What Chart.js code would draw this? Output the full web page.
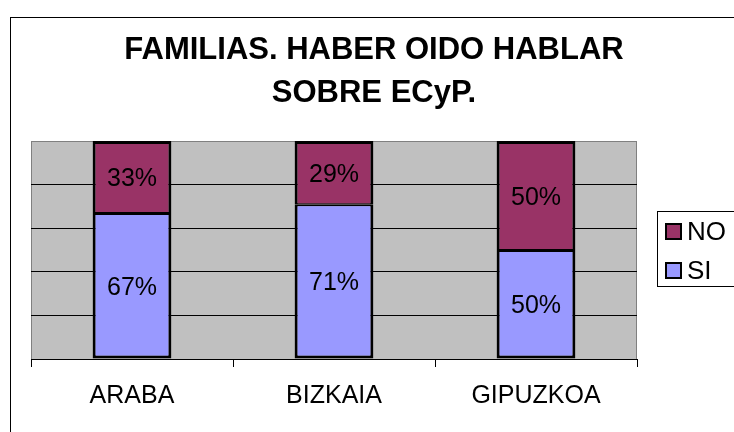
<!DOCTYPE html>
<html lang="es">
<head>
  <meta charset="UTF-8" />
  <title>FAMILIAS. HABER OIDO HABLAR SOBRE ECyP.</title>
  <style>
    body {
      margin: 0;
      padding: 0;
      background: #fff;
    }
    #wrap {
      width: 734px;
      height: 432px;
    }
  </style>
</head>
<body>
  <div id="wrap"><canvas id="grafico" width="734" height="432"></canvas></div>

  <script src="https://cdn.jsdelivr.net/npm/chart.js"></script>
  <script>
    const categorias = ["ARABA", "BIZKAIA", "GIPUZKOA"];
    const valoresSi = [67, 71, 50];
    const valoresNo = [33, 29, 50];
    const tituloLineas = ["FAMILIAS. HABER OIDO HABLAR", "SOBRE ECyP."];

    const fuente = "'Liberation Sans', Arial, sans-serif";

    // marco, fondo gris del area y titulo
    const fondo = {
      id: "fondo",
      beforeDraw(chart) {
        const ctx = chart.ctx;
        const a = chart.chartArea;
        ctx.save();
        ctx.fillStyle = "#fff";
        ctx.fillRect(0, 0, chart.width, chart.height);
        ctx.strokeStyle = "#000";
        ctx.lineWidth = 1;
        ctx.strokeRect(10.5, 17.5, 900, 900);
        ctx.fillStyle = "#C0C0C0";
        ctx.fillRect(a.left, a.top, a.right - a.left, a.bottom - a.top);
        ctx.strokeStyle = "#808080";
        ctx.beginPath();
        ctx.moveTo(a.left + 0.5, a.bottom);
        ctx.lineTo(a.left + 0.5, a.top + 0.5);
        ctx.lineTo(a.right - 0.5, a.top + 0.5);
        ctx.lineTo(a.right - 0.5, a.bottom);
        ctx.stroke();

        ctx.fillStyle = "#000";
        ctx.font = "bold 31px " + fuente;
        ctx.textAlign = "center";
        ctx.textBaseline = "alphabetic";
        ctx.fillText(tituloLineas[0], 374, 59);
        ctx.fillText(tituloLineas[1], 374, 102);
        ctx.restore();
      }
    };

    // porcentajes dentro de las barras + leyenda
    const etiquetas = {
      id: "etiquetas",
      afterDatasetsDraw(chart) {
        const ctx = chart.ctx;
        ctx.save();
        ctx.fillStyle = "#000";
        ctx.font = "25px " + fuente;
        ctx.textAlign = "center";
        ctx.textBaseline = "alphabetic";
        chart.data.datasets.forEach((ds, i) => {
          chart.getDatasetMeta(i).data.forEach((bar, j) => {
            const centro = (bar.y + bar.base) / 2;
            ctx.fillText(ds.data[j] + "%", bar.x, centro + 9);
          });
        });

        // leyenda
        ctx.strokeStyle = "#000";
        ctx.lineWidth = 1;
        ctx.strokeRect(657.5, 211.5, 200, 75);
        ctx.textAlign = "left";
        ctx.font = "26px " + fuente;
        const items = chart.data.datasets.slice().reverse();
        items.forEach((ds, k) => {
          const y = 223 + k * 39;
          ctx.fillStyle = ds.backgroundColor;
          ctx.fillRect(665, y, 17, 17);
          ctx.lineWidth = 2;
          ctx.strokeRect(666, y + 1, 15, 15);
          ctx.fillStyle = "#000";
          ctx.fillText(ds.label, 687, y + 17);
        });
        ctx.restore();
      }
    };

    new Chart(document.getElementById("grafico"), {
      type: "bar",
      data: {
        labels: categorias,
        datasets: [
          {
            label: "SI",
            data: valoresSi,
            backgroundColor: "#9999FF",
            borderColor: "#000",
            borderWidth: { left: 3, right: 3, bottom: 3, top: 2 },
            borderSkipped: false,
            barPercentage: 0.39,
            categoryPercentage: 1
          },
          {
            label: "NO",
            data: valoresNo,
            backgroundColor: "#993366",
            borderColor: "#000",
            borderWidth: { left: 3, right: 3, bottom: 1, top: 3 },
            borderSkipped: false,
            barPercentage: 0.39,
            categoryPercentage: 1
          }
        ]
      },
      options: {
        responsive: false,
        animation: false,
        layout: {
          padding: { left: 31, right: 97, top: 141, bottom: 0 }
        },
        plugins: {
          legend: { display: false },
          title: { display: false },
          tooltip: { enabled: false }
        },
        scales: {
          x: {
            stacked: true,
            grid: {
              drawOnChartArea: false,
              drawTicks: true,
              tickLength: 8,
              color: "#000"
            },
            border: { display: true, color: "#000", width: 1 },
            ticks: {
              color: "#000",
              padding: 14,
              font: { family: fuente, size: 25 }
            },
            afterFit(scale) {
              scale.height = 73;
            }
          },
          y: {
            stacked: true,
            min: 0,
            max: 100,
            ticks: { display: false, stepSize: 20 },
            grid: {
              drawTicks: false,
              color: ctx => (ctx.tick && ctx.tick.value === 100 ? "#808080" : "#000")
            },
            border: { display: false },
            afterFit(scale) {
              scale.width = 0;
            }
          }
        }
      },
      plugins: [fondo, etiquetas]
    });
  </script>
</body>
</html>
